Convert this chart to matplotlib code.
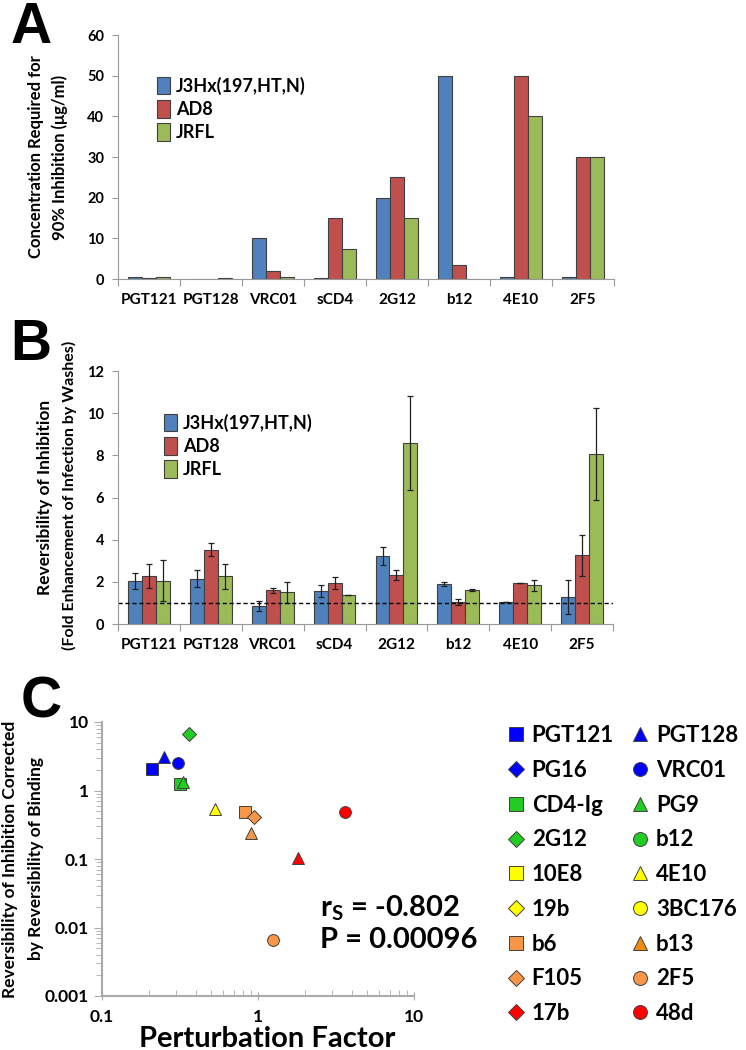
import numpy as np
import matplotlib
matplotlib.use('Agg')
import matplotlib.pyplot as plt
from matplotlib.lines import Line2D
from matplotlib.ticker import FixedLocator, NullFormatter

plt.rcParams['font.family'] = ['Lato', 'DejaVu Sans']
plt.rcParams['font.weight'] = 'bold'
plt.rcParams['mathtext.fontset'] = 'custom'
plt.rcParams['mathtext.bf'] = 'Lato:bold'
plt.rcParams['mathtext.rm'] = 'Lato:bold'

# ---- data ----
categories = ['PGT121', 'PGT128', 'VRC01', 'sCD4', '2G12', 'b12', '4E10', '2F5']
series = ['J3Hx(197,HT,N)', 'AD8', 'JRFL']
colors = ['#4F81BD', '#C0504D', '#9BBB59']

# panel A: concentration for 90% inhibition (ug/ml)
conc_j3hx = [0.4, 0.1, 10, 0.2, 20, 50, 0.6, 0.4]
conc_ad8 = [0.2, 0.1, 2, 15, 25, 3.5, 50, 30]
conc_jrfl = [0.4, 0.2, 0.5, 7.5, 15, 0.1, 40, 30]

# panel B: reversibility of inhibition, with error
rev_j3hx = [2.05, 2.15, 0.87, 1.55, 3.22, 1.88, 1.04, 1.28]
rev_ad8 = [2.27, 3.52, 1.59, 1.94, 2.32, 1.04, 1.93, 3.25]
rev_jrfl = [2.05, 2.27, 1.50, 1.37, 8.60, 1.61, 1.83, 8.07]
err_j3hx = [0.38, 0.41, 0.23, 0.28, 0.44, 0.10, 0.0, 0.79]
err_ad8 = [0.58, 0.30, 0.11, 0.30, 0.25, 0.14, 0.0, 0.97]
err_jrfl = [0.98, 0.59, 0.50, 0.0, 2.23, 0.03, 0.27, 2.18]

# panel C: legend entries (column 1 then column 2)
leg_names = ['PGT121', 'PG16', 'CD4-Ig', '2G12', '10E8', '19b', 'b6', 'F105', '17b',
             'PGT128', 'VRC01', 'PG9', 'b12', '4E10', '3BC176', 'b13', '2F5', '48d']
leg_markers = ['s', 'D', 's', 'D', 's', 'D', 's', 'D', 'D',
               '^', 'o', '^', 'o', '^', 'o', '^', 'o', 'o']
leg_colors = ['#0000FF', '#0000FF', '#22CC22', '#22CC22', '#FFFF00', '#FFFF00',
              '#F79646', '#F79646', '#FF0000',
              '#0000FF', '#0000FF', '#22CC22', '#22CC22', '#FFFF00', '#FFFF00',
              '#F08C10', '#F79646', '#FF0000']

# panel C: plotted points
pt_x = [0.21, 0.25, 0.305, 0.36, 0.315, 0.33, 0.53, 0.83, 0.94, 0.90, 1.8, 3.6, 1.25]
pt_y = [2.05, 3.05, 2.55, 6.7, 1.23, 1.34, 0.54, 0.48, 0.41, 0.24, 0.102, 0.49, 0.0065]
pt_marker = ['s', '^', 'o', 'D', 's', '^', '^', 's', 'D', '^', '^', 'o', 'o']
pt_color = ['#0000FF', '#0000FF', '#0000FF', '#22CC22', '#22CC22', '#22CC22', '#FFFF00',
            '#F79646', '#F79646', '#F79646', '#FF0000', '#FF0000', '#F79646']

W, H = 746, 1050
fig = plt.figure(figsize=(W / 100, H / 100), dpi=100)


def px_axes(left, right, top, bottom):
    return fig.add_axes([left / W, 1 - bottom / H, (right - left) / W, (bottom - top) / H])


x = np.arange(len(categories))
bw = 0.225


def style_bar_axes(ax, ymax, ystep):
    for s in ['top', 'right']:
        ax.spines[s].set_visible(False)
    for s in ['left', 'bottom']:
        ax.spines[s].set_color('#999999')
    ax.set_xlim(-0.5, len(categories) - 0.5)
    ax.set_ylim(0, ymax)
    ax.set_yticks(np.arange(0, ymax + 0.1, ystep))
    ax.xaxis.set_major_locator(FixedLocator(np.arange(-0.5, len(categories), 1)))
    ax.xaxis.set_major_formatter(NullFormatter())
    ax.xaxis.set_minor_locator(FixedLocator(x))
    ax.set_xticklabels(categories, minor=True)
    ax.tick_params(axis='x', which='major', length=5, color='#999999', direction='out')
    ax.tick_params(axis='x', which='minor', length=0, labelsize=11, pad=10)
    ax.tick_params(axis='y', length=4, color='#999999', labelsize=10.5, pad=6)


leg_kw = dict(frameon=False, fontsize=13, handlelength=0.7, handleheight=1.1,
              handletextpad=0.35, labelspacing=0.3, borderaxespad=0)

# ---- panel A ----
axA = px_axes(118, 614, 35, 279)
for i, vals in enumerate([conc_j3hx, conc_ad8, conc_jrfl]):
    axA.bar(x + (i - 1) * bw, vals, bw, color=colors[i], edgecolor='#404040',
            linewidth=0.8, label=series[i])
style_bar_axes(axA, 60, 10)
axA.text((36 - 118) / 496, 0.5, 'Concentration Required for', transform=axA.transAxes,
         rotation=90, ha='center', va='center', fontsize=12)
axA.text((60 - 118) / 496, 0.5, '90% Inhibition (\u03bcg/ml)', transform=axA.transAxes,
         rotation=90, ha='center', va='center', fontsize=12)
axA.legend(loc='center left', bbox_to_anchor=((150 - 118) / 496, (279 - 109) / 244), **leg_kw)
fig.text(0.014, 0.999, 'A', fontsize=41, fontweight='bold', va='top',
         family='Liberation Sans')

# ---- panel B ----
axB = px_axes(118, 613, 371, 624)
for i, (vals, errs) in enumerate(zip([rev_j3hx, rev_ad8, rev_jrfl],
                                     [err_j3hx, err_ad8, err_jrfl])):
    axB.bar(x + (i - 1) * bw, vals, bw, yerr=errs, color=colors[i], edgecolor='#404040',
            linewidth=0.8, label=series[i],
            error_kw=dict(ecolor='#202020', elinewidth=0.9, capsize=2.5, capthick=0.9))
axB.axhline(1, color='black', linestyle='--', linewidth=1.0, dashes=(3, 2))
style_bar_axes(axB, 12, 2)
axB.text((45 - 118) / 495, 0.5, 'Reversibility of Inhibition', transform=axB.transAxes,
         rotation=90, ha='center', va='center', fontsize=12.5)
axB.text((69 - 118) / 495, 0.51, '(Fold Enhancement of Infection by Washes)',
         transform=axB.transAxes, rotation=90, ha='center', va='center', fontsize=11.5)
axB.legend(loc='center left', bbox_to_anchor=((157 - 118) / 495, (624 - 446) / 253), **leg_kw)
fig.text(0.014, 0.697, 'B', fontsize=41, fontweight='bold', va='top',
         family='Liberation Sans')

# ---- panel C ----
axC = px_axes(102, 414, 722, 996)
for xi, yi, m, c in zip(pt_x, pt_y, pt_marker, pt_color):
    ms = 8.5 if m != 'D' else 7
    axC.plot(xi, yi, marker=m, color=c, markersize=ms, markeredgecolor='#404040',
             markeredgewidth=0.7, linestyle='none')
axC.set_xscale('log')
axC.set_yscale('log')
axC.set_xlim(0.1, 10)
axC.set_ylim(0.001, 10)
for s in ['top', 'right']:
    axC.spines[s].set_visible(False)
for s in ['left', 'bottom']:
    axC.spines[s].set_color('#aaaaaa')
    axC.spines[s].set_linewidth(1.5)
axC.set_xticks([0.1, 1, 10])
axC.set_xticklabels(['0.1', '1', '10'])
axC.set_yticks([0.001, 0.01, 0.1, 1, 10])
axC.set_yticklabels(['0.001', '0.01', '0.1', '1', '10'])
axC.tick_params(axis='x', which='major', direction='inout', length=6, color='#aaaaaa',
                labelsize=12.5, pad=6)
axC.tick_params(axis='x', which='minor', direction='in', length=4, color='#aaaaaa')
axC.tick_params(axis='y', which='major', direction='out', length=6, color='#aaaaaa',
                labelsize=12.5)
axC.tick_params(axis='y', which='minor', direction='out', length=4, color='#aaaaaa')
fig.text(267 / W, 1 - 1047 / H, 'Perturbation Factor', fontsize=21, ha='center',
         va='baseline')
axC.text((10 - 102) / 312, 0.5, 'Reversibility of Inhibition Corrected',
         transform=axC.transAxes, rotation=90, ha='center', va='center', fontsize=12.5)
axC.text((36 - 102) / 312, 0.5, 'by Reversibility of Binding',
         transform=axC.transAxes, rotation=90, ha='center', va='center', fontsize=12.5)
fig.text(320 / W, 1 - 916 / H, r'r$_\mathbf{S}$ = -0.802', fontsize=21, va='baseline')
fig.text(320 / W, 1 - 948 / H, 'P = 0.00096', fontsize=21, va='baseline')
fig.text(0.028, 0.357, 'C', fontsize=41, fontweight='bold', va='top',
         family='Liberation Sans')

handles = [Line2D([], [], marker=m, color=c, markersize=10 if m != 'D' else 8.5,
                  markeredgecolor='#404040', markeredgewidth=0.7, linestyle='none')
           for m, c in zip(leg_markers, leg_colors)]
fig.legend(handles, leg_names, ncol=2, loc='upper left', bbox_to_anchor=(0.668, 0.318),
           frameon=False, fontsize=16, handlelength=0.8, handletextpad=0.3,
           labelspacing=0.62, columnspacing=0.8, borderaxespad=0)

fig.savefig('out.png', dpi=100)
